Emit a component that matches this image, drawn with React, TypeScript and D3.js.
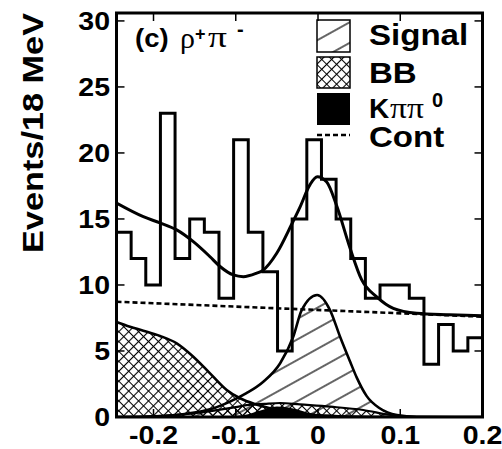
import React from 'react';
import * as d3 from 'd3';

const W = 502;
const H = 449;

// x range of the histogram (GeV) and bin contents (Events / 18 MeV)
const xMin = -0.245;
const xMax = 0.2;
const binCounts = [14, 12, 10, 23, 12, 15, 14, 9, 21, 14, 11, 5, 15, 21, 18, 15, 12, 9, 10, 10, 9, 4, 7, 5, 6];

const yTicks = [0, 5, 10, 15, 20, 25, 30];
const xTicks = [-0.2, -0.1, 0, 0.1, 0.2];
const xTickLabels = ['-0.2', '-0.1', '0', '0.1', '0.2'];

// fitted curves: [deltaE, events]
const totalFit: [number, number][] = [
  [-0.245, 16.2], [-0.2124, 15.17], [-0.1921, 14.7], [-0.1718, 14.17], [-0.1516, 13.28],
  [-0.1313, 12.14], [-0.1191, 11.4], [-0.103, 10.76], [-0.0908, 10.63], [-0.0745, 10.9],
  [-0.0672, 11.1], [-0.0502, 12.4], [-0.032, 14.6], [-0.0219, 15.9], [-0.0097, 17.6],
  [-0.0009, 18.2], [0.0106, 17.8], [0.0227, 16.0], [0.0389, 12.8], [0.053, 10.4],
  [0.0714, 9.1], [0.0916, 8.23], [0.12, 7.86], [0.16, 7.75], [0.2, 7.67],
];
const contFit: [number, number][] = [[-0.245, 8.73], [0.2, 7.6]];
const signalFit: [number, number][] = [
  [-0.245, 0], [-0.2, 0.05], [-0.16, 0.25], [-0.13, 0.6], [-0.107, 1.16], [-0.087, 1.8],
  [-0.0665, 2.67], [-0.046, 4.07], [-0.03, 6.1], [-0.0198, 8.1], [-0.001, 9.24],
  [0.0146, 8.1], [0.0267, 6.1], [0.039, 4.2], [0.047, 3.0], [0.059, 1.6], [0.075, 0.66],
  [0.096, 0.15], [0.12, 0.02], [0.2, 0],
];
const bbFitA: [number, number][] = [
  [-0.245, 7.2], [-0.2286, 6.84], [-0.2124, 6.54], [-0.1921, 6.14], [-0.1718, 5.58],
  [-0.1516, 4.57], [-0.1313, 3.31], [-0.111, 2.05], [-0.0948, 1.42], [-0.075, 0.95],
  [-0.05, 0.55], [-0.02, 0.25], [0.02, 0.08], [0.08, 0],
];
const bbFitB: [number, number][] = [
  [-0.215, 0], [-0.15, 0.3], [-0.1, 0.75], [-0.087, 0.9], [-0.065, 1.0], [-0.046, 1.06],
  [-0.022, 0.95], [0.015, 0.78], [0.055, 0.53], [0.088, 0.15], [0.112, 0.02], [0.13, 0],
];
const kppFit: [number, number][] = [
  [-0.125, 0], [-0.1, 0.08], [-0.09, 0.15], [-0.07, 0.5], [-0.05, 0.8], [-0.03, 0.65],
  [-0.01, 0.3], [0.01, 0.08], [0.03, 0],
];

const SANS = 'Liberation Sans, Arial, Helvetica, sans-serif';
const SERIF = 'Liberation Serif, Times New Roman, serif';
const SX = 1.14;

const left = 116.5, right = 482.5, top = 13, bottom = 417;

export default function App() {
  const x = d3.scaleLinear().domain([xMin, xMax]).range([left, right]);
  const y = d3.scaleLinear().domain([0, 30.6]).range([bottom, top]);
  const binW = (xMax - xMin) / binCounts.length;

  const histPts: [number, number][] = binCounts.map((c, i) => [xMin + i * binW, c]);
  histPts.push([xMax, binCounts[binCounts.length - 1]]);
  const hist = d3.line<[number, number]>().x(d => x(d[0])).y(d => y(d[1])).curve(d3.curveStepAfter)(histPts) || '';

  const line = d3.line<[number, number]>().x(d => x(d[0])).y(d => y(d[1])).curve(d3.curveMonotoneX);
  const area = d3.area<[number, number]>().x(d => x(d[0])).y0(y(0)).y1(d => y(d[1])).curve(d3.curveMonotoneX);
  const straight = d3.line<[number, number]>().x(d => x(d[0])).y(d => y(d[1]));

  const tickLen = 8;

  return (
    <svg width={W} height={H} style={{ position: 'absolute', left: 0, top: 0, background: '#fff' }}>
      <defs>
        <clipPath id="plot">
          <rect x={left} y={top} width={right - left} height={bottom - top} />
        </clipPath>
        <pattern id="hatch" patternUnits="userSpaceOnUse" width="20" height="18" patternTransform="rotate(-29)">
          <line x1="0" y1="9" x2="20" y2="9" stroke="#000" strokeWidth="1.2" />
        </pattern>
        <pattern id="cross" patternUnits="userSpaceOnUse" width="7" height="7" patternTransform="rotate(45)">
          <path d="M0,3.5 H7 M3.5,0 V7" stroke="#000" strokeWidth="1.1" fill="none" />
        </pattern>
      </defs>
      <rect x={0} y={0} width={W} height={H} fill="#fff" />
      <g clipPath="url(#plot)">
        <path d={area(bbFitA) || ''} fill="url(#cross)" />
        <path d={area(bbFitB) || ''} fill="url(#cross)" />
        <path d={area(signalFit) || ''} fill="url(#hatch)" />
        <path d={area(kppFit) || ''} fill="#000" />
        <path d={line(bbFitA) || ''} fill="none" stroke="#000" strokeWidth={2.6} />
        <path d={line(bbFitB) || ''} fill="none" stroke="#000" strokeWidth={2.2} />
        <path d={line(signalFit) || ''} fill="none" stroke="#000" strokeWidth={2.6} />
        <path d={straight(contFit) || ''} fill="none" stroke="#000" strokeWidth={2.6} strokeDasharray="5,3" />
        <path d={hist} fill="none" stroke="#000" strokeWidth={3} />
        <path d={line(totalFit) || ''} fill="none" stroke="#000" strokeWidth={3} />
      </g>
      {/* frame */}
      <rect x={left} y={top} width={right - left} height={bottom - top} fill="none" stroke="#000" strokeWidth={3} />
      {yTicks.map(v => (
        <g key={'yt' + v}>
          <line x1={left} x2={left + tickLen} y1={y(v)} y2={y(v)} stroke="#000" strokeWidth={1.5} />
          <line x1={right} x2={right - tickLen} y1={y(v)} y2={y(v)} stroke="#000" strokeWidth={1.5} />
          <text transform={`translate(110,${y(v) + 9}) scale(${SX},1)`} textAnchor="end"
            fontFamily={SANS} fontWeight="bold" fontSize={25}>{v}</text>
        </g>
      ))}
      {xTicks.map((v, i) => (
        <g key={'xt' + v}>
          <line x1={x(v)} x2={x(v)} y1={bottom} y2={bottom - tickLen} stroke="#000" strokeWidth={1.5} />
          <line x1={x(v)} x2={x(v)} y1={top} y2={top + tickLen} stroke="#000" strokeWidth={1.5} />
          <text transform={`translate(${x(v)},444) scale(${SX},1)`} textAnchor="middle"
            fontFamily={SANS} fontWeight="bold" fontSize={25}>{xTickLabels[i]}</text>
        </g>
      ))}
      {/* y title */}
      <text transform="translate(43,133) rotate(-90)" textAnchor="middle" fontFamily={SANS}
        fontWeight="bold" fontSize={29} textLength={240} lengthAdjust="spacingAndGlyphs">Events/18 MeV</text>

      {/* panel label */}
      <text transform={`translate(135,47) scale(1.1,1)`} fontFamily={SANS} fontWeight="bold" fontSize={25}>(c)</text>
      <text x={180} y={48} fontFamily={SERIF} fontSize={30}>ρ</text>
      <text x={195} y={40} fontFamily={SANS} fontWeight="bold" fontSize={18}>+</text>
      <text transform={`translate(208,47) scale(1.25,1)`} fontFamily={SERIF} fontSize={30}>π</text>
      <text x={237} y={36} fontFamily={SANS} fontWeight="bold" fontSize={20}>-</text>

      {/* legend */}
      <rect x={317} y={20} width={33} height={32} fill="url(#hatch)" stroke="#000" strokeWidth={1.5} />
      <rect x={317} y={57} width={33} height={31} fill="url(#cross)" stroke="#000" strokeWidth={1.5} />
      <rect x={317} y={93} width={33} height={32} fill="#000" />
      <line x1={317} x2={350} y1={135} y2={135} stroke="#000" strokeWidth={2.5} strokeDasharray="5,3" />
      <text transform={`translate(369,45) scale(${SX},1)`} fontFamily={SANS} fontWeight="bold" fontSize={29}>Signal</text>
      <text transform={`translate(369,83) scale(${SX},1)`} fontFamily={SANS} fontWeight="bold" fontSize={29}>BB</text>
      <text transform={`translate(369,118) scale(1.0,1)`} fontFamily={SANS} fontWeight="bold" fontSize={28}>K</text>
      <text transform={`translate(390,118) scale(1.12,1)`} fontFamily={SERIF} fontSize={30}>ππ</text>
      <text x={432} y={107} fontFamily={SANS} fontWeight="bold" fontSize={20}>0</text>
      <text transform={`translate(369,147) scale(${SX},1)`} fontFamily={SANS} fontWeight="bold" fontSize={29}>Cont</text>
    </svg>
  );
}
